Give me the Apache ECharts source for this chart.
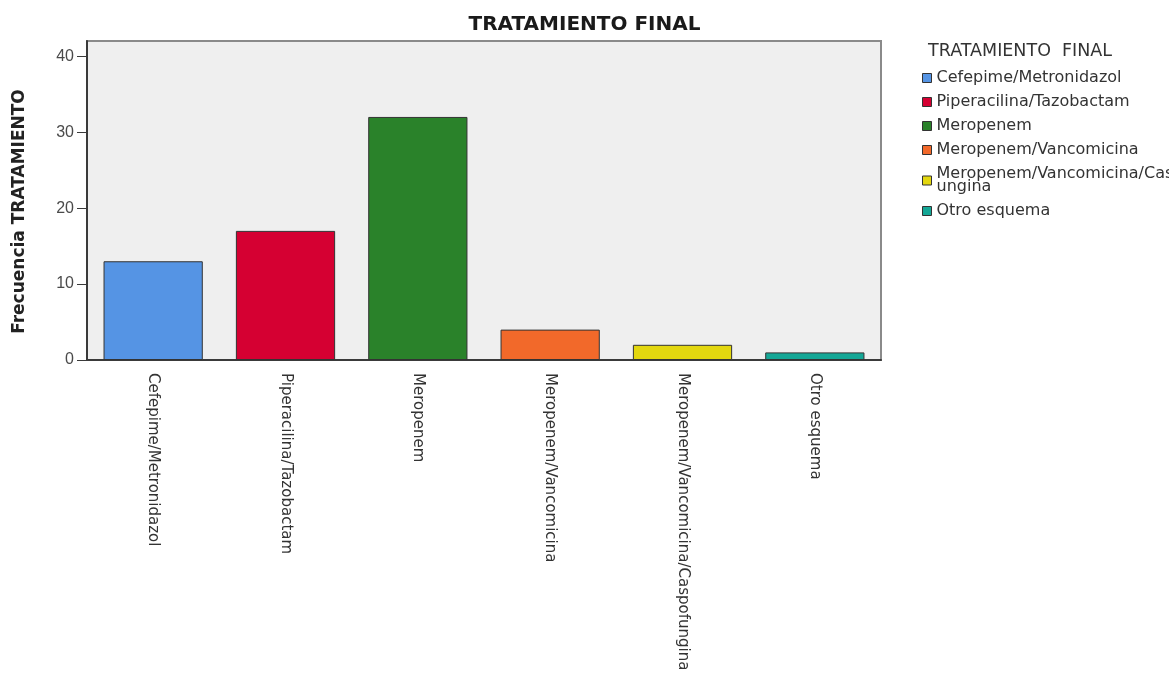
<!DOCTYPE html>
<html>
<head>
<meta charset="utf-8">
<script src="https://cdn.jsdelivr.net/npm/echarts@6/dist/echarts.min.js"></script>
<style>
  html, body { margin: 0; padding: 0; background: #ffffff; }
  #chart { width: 1169px; height: 678px; }
</style>
</head>
<body>
<div id="chart"></div>
<script>
// Treatment categories and patient counts
const categories = [
  'Cefepime/Metronidazol',
  'Piperacilina/Tazobactam',
  'Meropenem',
  'Meropenem/Vancomicina',
  'Meropenem/Vancomicina/Caspofungina',
  'Otro esquema'
];
const counts = [13, 17, 32, 4, 2, 1];
const colors = ['#5594E4', '#D50032', '#2A822A', '#F2692A', '#E3D70F', '#14A796'];
const yTicks = [0, 10, 20, 30, 40];

const FONT = 'DejaVu Sans, Liberation Sans, sans-serif';
const FONT_NUM = 'Liberation Sans, Arial, sans-serif';

// One series per treatment so each gets its own legend entry;
// stacking keeps every bar centred on its category.
const series = categories.map((name, i) => ({
  name: name,
  type: 'bar',
  stack: 'tratamiento',
  barWidth: '75%',
  itemStyle: { color: colors[i], borderColor: '#333333', borderWidth: 1 },
  data: categories.map((c, j) => (j === i ? counts[i] : '-'))
}));

const chart = echarts.init(document.getElementById('chart'), null, { renderer: 'canvas' });
chart.setOption({
  animation: false,
  textStyle: { fontFamily: FONT },
  title: [
    {
      text: 'TRATAMIENTO FINAL',
      left: 'center',
      top: 15,
      padding: 0,
      textStyle: { fontSize: 20, fontWeight: 'bold', color: '#1a1a1a', fontFamily: FONT }
    },
    {
      text: 'TRATAMIENTO  FINAL',
      left: 928,
      top: 42,
      padding: 0,
      textStyle: { fontSize: 17.5, fontWeight: 'normal', color: '#333', fontFamily: FONT }
    }
  ],
  legend: {
    orient: 'vertical',
    left: 917,
    top: 65,
    itemWidth: 9,
    itemHeight: 9,
    itemGap: 8,
    icon: 'rect',
    itemStyle: { borderColor: '#333333', borderWidth: 1 },
    textStyle: { fontSize: 16, color: '#333', lineHeight: 13, fontFamily: FONT },
    formatter: function (name) {
      return name === 'Meropenem/Vancomicina/Caspofungina'
        ? 'Meropenem/Vancomicina/Caspof\nungina'
        : name;
    },
    data: categories
  },
  grid: {
    left: 87,
    right: 288,
    top: 41,
    bottom: 318,
    show: true,
    backgroundColor: '#EFEFEF',
    borderColor: '#8a8a8a',
    borderWidth: 2
  },
  xAxis: {
    type: 'category',
    data: categories,
    axisLine: { lineStyle: { color: '#3a3a3a', width: 2 } },
    axisTick: { alignWithLabel: true, length: 8, lineStyle: { color: '#3a3a3a' } },
    axisLabel: { rotate: -90, fontSize: 15, color: '#333', margin: 13, interval: 0, fontFamily: FONT }
  },
  yAxis: {
    type: 'value',
    min: 0,
    max: 42,
    interval: 10,
    name: 'Frecuencia TRATAMIENTO',
    nameLocation: 'middle',
    nameGap: 59,
    nameTextStyle: { fontSize: 17, fontWeight: 'bold', color: '#222', fontFamily: FONT, padding: [0, 22, 0, 0] },
    axisLine: { show: true, lineStyle: { color: '#3a3a3a', width: 2 } },
    axisTick: { show: true, length: 10, customValues: yTicks, lineStyle: { color: '#3a3a3a' } },
    axisLabel: { fontSize: 16, color: '#4a4a4a', margin: 13, customValues: yTicks, fontFamily: FONT_NUM },
    splitLine: { show: false }
  },
  series: series
});
</script>
</body>
</html>
